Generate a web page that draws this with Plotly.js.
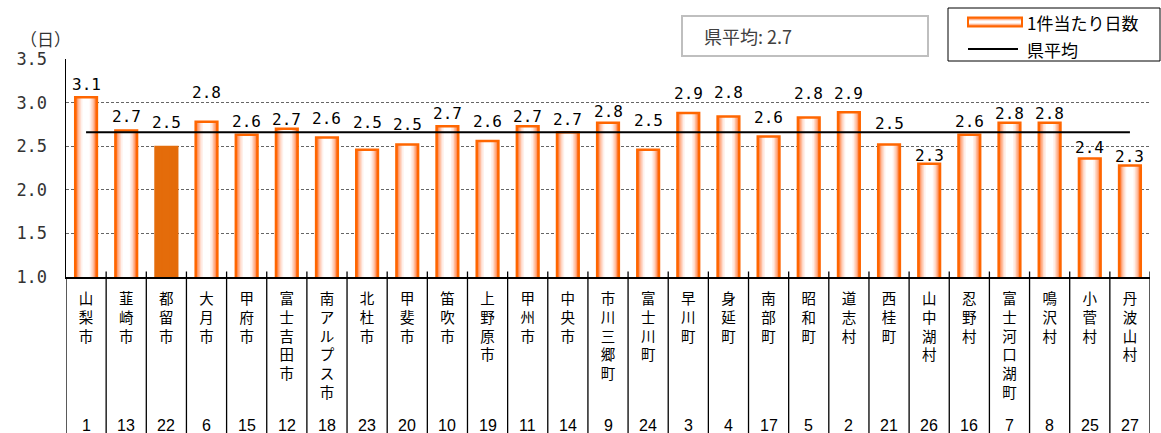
<!DOCTYPE html>
<html>
<head>
<meta charset="utf-8">
<script src="https://cdn.plot.ly/plotly-3.0.1.min.js"></script>
<style>html,body{margin:0;padding:0;background:#fff;}#chart{width:1161px;height:433px;}</style>
</head>
<body>
<div id="chart"></div>
<script>
// ---- data ----
const categories = ['山梨市','韮崎市','都留市','大月市','甲府市','富士吉田市','南アルプス市','北杜市','甲斐市','笛吹市','上野原市','甲州市','中央市','市川三郷町','富士川町','早川町','身延町','南部町','昭和町','道志村','西桂町','山中湖村','忍野村','富士河口湖町','鳴沢村','小菅村','丹波山村'];
const daysPerCase = [3.06,2.68,2.49,2.78,2.63,2.70,2.60,2.46,2.52,2.73,2.56,2.73,2.66,2.77,2.46,2.88,2.84,2.61,2.83,2.89,2.52,2.30,2.63,2.77,2.77,2.36,2.28];
const ranks = [1,13,22,6,15,12,18,23,20,10,19,11,14,9,24,3,4,17,5,2,21,26,16,7,8,25,27];
const prefAverage = 2.66;
const prefAverageLabel = '県平均: 2.7';
const highlighted = '都留市';
const seriesName = '1件当たり日数';
const avgName = '県平均';
const yUnit = '（日）';

// ---- styles ----
const labelLift = [13,14,25,29,13,9,19,27,20,13,19,10,13,11,29,20,24,19,24,19,21,8,13,9,9,11,9];
const ORANGE = '#FF6600', DARK = '#E46C0A';
const layers = [
  {w:0.52, c:'#FF7A38'},
  {w:0.46, c:'#FF9C6C'},
  {w:0.40, c:'#FFBC9C'},
  {w:0.33, c:'#FFDACB'},
  {w:0.26, c:'#FFF0EA'},
  {w:0.18, c:'#FFFFFF'}
];
const L = 66, R = 11, T = 59, B = 156, W = 1161, H = 433;
const PW = W - L - R, PH = H - T - B;
const px = x => (x - L) / PW;
const py = y => (T + PH - y) / PH;

const traces = [];
layers.forEach(l => {
  traces.push({
    type:'bar', x:categories, y:daysPerCase, width:l.w,
    marker:{color:categories.map(c => c === highlighted ? DARK : l.c), line:{width:0}},
    hoverinfo:'skip', showlegend:false
  });
});
traces.push({
  type:'bar', x:categories, y:daysPerCase, width:0.54,
  marker:{color:'rgba(0,0,0,0)', line:{width:2.5, color:categories.map(c => c === highlighted ? DARK : ORANGE)}},
  hoverinfo:'skip', showlegend:false
});
traces.push({
  type:'scatter', mode:'lines', x:[categories[0], categories[categories.length-1]],
  y:[prefAverage, prefAverage], line:{color:'#000', width:2}, hoverinfo:'skip', showlegend:false
});

const annotations = [];
categories.forEach((c,i) => {
  annotations.push({x:c, y:daysPerCase[i], xref:'x', yref:'y', text:daysPerCase[i].toFixed(1),
    showarrow:false, yanchor:'middle', yshift:labelLift[i],
    font:{family:'DejaVu Sans Mono', size:16, color:'#000'}});
  annotations.push({x:c, y:py(425), xref:'x', yref:'paper', text:String(ranks[i]),
    showarrow:false, yanchor:'middle', font:{family:'Liberation Sans', size:16, color:'#000'}});
});
annotations.push({x:px(45), y:py(38), xref:'paper', yref:'paper', text:yUnit, showarrow:false,
  xanchor:'center', yanchor:'middle', font:{family:'Noto Sans CJK JP', size:17, color:'#333'}});
annotations.push({x:px(702), y:py(36), xref:'paper', yref:'paper', text:prefAverageLabel, showarrow:false,
  xanchor:'left', yanchor:'middle', font:{family:'Noto Sans CJK JP', size:18, color:'#404040'}});
annotations.push({x:px(1025), y:py(22), xref:'paper', yref:'paper', text:seriesName, showarrow:false,
  xanchor:'left', yanchor:'middle', font:{family:'Noto Sans CJK JP', size:17, color:'#000'}});
annotations.push({x:px(1025), y:py(49), xref:'paper', yref:'paper', text:avgName, showarrow:false,
  xanchor:'left', yanchor:'middle', font:{family:'Noto Sans CJK JP', size:17, color:'#000'}});

const shapes = [];
for (let i = 0; i <= categories.length; i++) {
  shapes.push({type:'line', xref:'x', yref:'paper', x0:i-0.5, x1:i-0.5,
    y0: i === 0 ? 0 : py(271.5), y1: py(433), line:{color:'#000', width:1.3}});
}
shapes.push({type:'rect', xref:'paper', yref:'paper', x0:px(682), x1:px(928), y0:py(16), y1:py(56),
  line:{color:'#BFBFBF', width:2}, fillcolor:'rgba(0,0,0,0)'});
shapes.push({type:'rect', xref:'paper', yref:'paper', x0:px(948), x1:px(1160), y0:py(8), y1:py(61),
  line:{color:'#000', width:1}, fillcolor:'#fff'});
const sw = [{h:4.5,c:'#FF7A38'},{h:3.2,c:'#FFB894'},{h:2.0,c:'#FFE6DA'},{h:1.0,c:'#FFFFFF'}];
sw.forEach(s => shapes.push({type:'rect', xref:'paper', yref:'paper', x0:px(969), x1:px(1021),
  y0:py(22 - s.h), y1:py(22 + s.h), line:{width:0}, fillcolor:s.c}));
shapes.push({type:'rect', xref:'paper', yref:'paper', x0:px(968), x1:px(1022), y0:py(17.5), y1:py(26.5),
  line:{color:ORANGE, width:2}, fillcolor:'rgba(0,0,0,0)'});
shapes.push({type:'line', xref:'paper', yref:'paper', x0:px(968), x1:px(1018), y0:py(49), y1:py(49),
  line:{color:'#000', width:2}});

const layout = {
  width:W, height:H, margin:{l:L, r:R, t:T, b:B, pad:0},
  paper_bgcolor:'#fff', plot_bgcolor:'#fff',
  barmode:'overlay', showlegend:false,
  font:{family:'Noto Sans CJK JP'},
  xaxis:{type:'category', range:[-0.5, categories.length-0.5], showgrid:false, zeroline:false,
    showline:true, linecolor:'#000', linewidth:1.5, ticks:'', ticklabelstandoff:8,
    tickvals:categories, ticktext:categories.map(c => c.split('').join('<br>')),
    tickfont:{family:'Noto Sans CJK JP', size:14.5, color:'#000'}, fixedrange:true},
  yaxis:{range:[1,3.5], dtick:0.5, tick0:1, tickformat:'.1f', showgrid:true, gridcolor:'#666',
    griddash:'3px,2px', gridwidth:1, zeroline:false, showline:true, linecolor:'#000', linewidth:1.5,
    ticks:'', ticklabelstandoff:14, tickfont:{family:'DejaVu Sans Mono', size:17, color:'#333'}, fixedrange:true},
  shapes:shapes, annotations:annotations
};

Plotly.newPlot('chart', traces, layout, {displayModeBar:false, staticPlot:true});
</script>
</body>
</html>
